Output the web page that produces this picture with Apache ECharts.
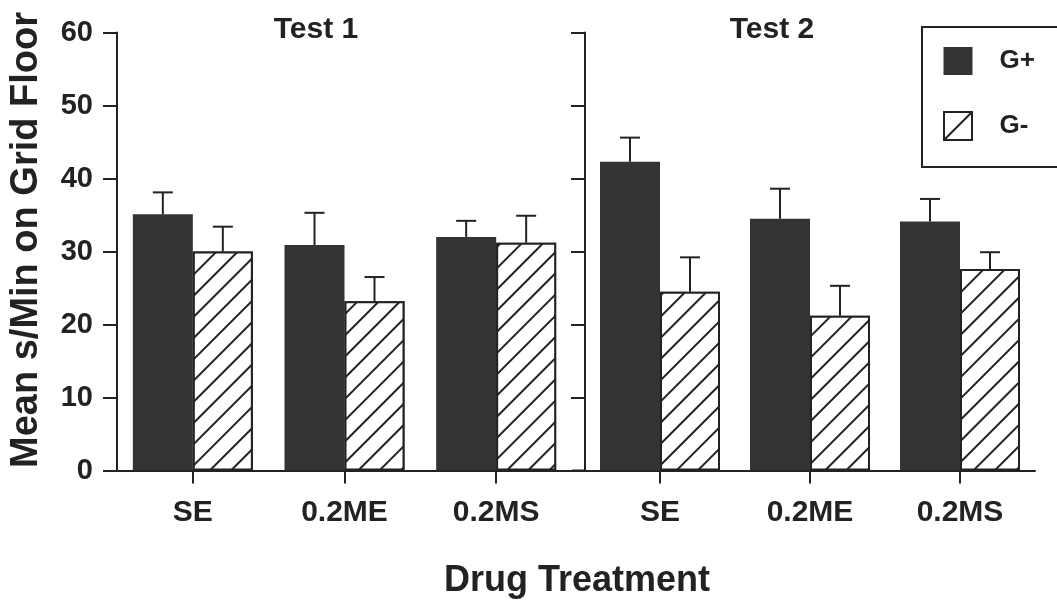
<!DOCTYPE html>
<html>
<head>
<meta charset="utf-8">
<script src="https://cdn.jsdelivr.net/npm/echarts@6/dist/echarts.min.js"></script>
<style>
  html, body { margin: 0; padding: 0; background: #fff; }
  #chart { width: 1057px; height: 606px; }
</style>
</head>
<body>
<div id="chart"></div>
<script>
// ---- data ----
const categories = ['SE', '0.2ME', '0.2MS'];
const test1GPlus = [35.1, 30.9, 32.0];
const test1GPlusErr = [3.0, 4.4, 2.2];
const test1GMinus = [30.0, 23.2, 31.2];
const test1GMinusErr = [3.4, 3.3, 3.7];
const test2GPlus = [42.3, 34.5, 34.1];
const test2GPlusErr = [3.3, 4.1, 3.1];
const test2GMinus = [24.5, 21.2, 27.6];
const test2GMinusErr = [4.7, 4.1, 2.3];
const yMin = 0, yMax = 60, yStep = 10;
const seriesNames = ['G+', 'G-'];
const panelTitles = ['Test 1', 'Test 2'];
const xTitle = 'Drug Treatment';
const yTitle = 'Mean s/Min on Grid Floor';

// ---- style ----
const INK = '#222';
const DARK = '#333';
const FONT = 'Liberation Sans, Arial, sans-serif';
const BAR_W = 60;
const GRID_TOP = 32.5, GRID_H = 438;
const G1 = { left: 117, width: 455 };
const G2 = { left: 585, width: 450 };

const chart = echarts.init(document.getElementById('chart'), null, { renderer: 'canvas' });

const hatch = {
  symbol: 'rect',
  symbolSize: 1,
  color: INK,
  backgroundColor: '#fff',
  dashArrayX: [1, 0],
  dashArrayY: [2, 13],
  rotation: -Math.PI / 4
};

function xAxisFor(gi) {
  return {
    type: 'category', gridIndex: gi, data: categories,
    axisLine: { lineStyle: { color: INK, width: 2 } },
    axisTick: { show: true, alignWithLabel: true, length: 13, lineStyle: { color: INK, width: 2 } },
    axisLabel: { color: INK, fontFamily: FONT, fontWeight: 'bold', fontSize: 30, margin: 27 },
    splitLine: { show: false }
  };
}
function yAxisFor(gi, showLabels) {
  return {
    type: 'value', gridIndex: gi, min: yMin, max: yMax, interval: yStep,
    axisLine: { show: true, lineStyle: { color: INK, width: 2 } },
    axisTick: { show: true, length: 14, lineStyle: { color: INK, width: 2 } },
    axisLabel: { show: showLabels, color: INK, fontFamily: FONT, fontWeight: 'bold', fontSize: 29, margin: 24 },
    splitLine: { show: false }
  };
}

function barSeries(gi, name, values) {
  const isMinus = name === 'G-';
  return {
    type: 'bar', name: name, xAxisIndex: gi, yAxisIndex: gi,
    data: values, barWidth: BAR_W, barGap: '0%',
    itemStyle: isMinus
      ? { color: '#fff', borderColor: INK, borderWidth: 2, decal: hatch }
      : { color: DARK, borderColor: DARK, borderWidth: 0 },
    emphasis: { disabled: true }
  };
}

function errSeries(gi, values, errs, side) {
  return {
    type: 'custom', xAxisIndex: gi, yAxisIndex: gi, z: 3,
    data: values.map((v, i) => [i, v, errs[i]]),
    encode: { x: 0, y: 1 },
    renderItem: function (params, api) {
      const i = api.value(0), v = api.value(1), e = api.value(2);
      const base = api.coord([i, v]);
      const top = api.coord([i, v + e]);
      const x = base[0] + side * BAR_W / 2;
      const st = { stroke: INK, lineWidth: 2 };
      return {
        type: 'group',
        children: [
          { type: 'line', shape: { x1: x, y1: base[1], x2: x, y2: top[1] }, style: st },
          { type: 'line', shape: { x1: x - 10, y1: top[1], x2: x + 10, y2: top[1] }, style: st }
        ]
      };
    },
    silent: true
  };
}

const baseY = GRID_TOP + GRID_H;

const option = {
  animation: false,
  backgroundColor: '#fff',
  grid: [
    { left: G1.left, top: GRID_TOP, width: G1.width, height: GRID_H },
    { left: G2.left, top: GRID_TOP, width: G2.width, height: GRID_H }
  ],
  xAxis: [xAxisFor(0), xAxisFor(1)],
  yAxis: [yAxisFor(0, true), yAxisFor(1, false)],
  legend: {
    orient: 'vertical', left: 922, top: 27,
    padding: [20, 90, 26, 21],
    itemWidth: 29, itemHeight: 28, itemGap: 36,
    borderColor: INK, borderWidth: 2, backgroundColor: '#fff',
    selectedMode: false,
    textStyle: { color: INK, fontFamily: FONT, fontWeight: 'bold', fontSize: 26, padding: [0, 0, 0, 22] },
    data: [
      { name: seriesNames[0], icon: 'rect', itemStyle: { color: DARK, borderWidth: 0 } },
      { name: seriesNames[1], icon: 'path://M0,0L10,0L10,10L0,10Z M0,10L10,0',
        itemStyle: { color: '#fff', borderColor: INK, borderWidth: 2, decal: 'none' } }
    ]
  },
  graphic: [
    { type: 'line', shape: { x1: G1.left + G1.width, y1: baseY, x2: G2.left, y2: baseY },
      style: { stroke: INK, lineWidth: 2 }, z: 10 },
    { type: 'text', x: 316, y: 30, style: { text: panelTitles[0], textAlign: 'center', textVerticalAlign: 'middle',
      font: 'bold 30px ' + FONT, fill: INK } },
    { type: 'text', x: 772, y: 30, style: { text: panelTitles[1], textAlign: 'center', textVerticalAlign: 'middle',
      font: 'bold 30px ' + FONT, fill: INK } },
    { type: 'text', x: 577, y: 581, style: { text: xTitle, textAlign: 'center', textVerticalAlign: 'middle',
      font: 'bold 36px ' + FONT, fill: INK } },
    { type: 'text', x: 27, y: 240, rotation: Math.PI / 2, style: { text: yTitle, textAlign: 'center', textVerticalAlign: 'middle',
      font: 'bold 38px ' + FONT, fill: INK } }
  ],
  series: [
    barSeries(0, seriesNames[0], test1GPlus),
    barSeries(0, seriesNames[1], test1GMinus),
    barSeries(1, seriesNames[0], test2GPlus),
    barSeries(1, seriesNames[1], test2GMinus),
    errSeries(0, test1GPlus, test1GPlusErr, -1),
    errSeries(0, test1GMinus, test1GMinusErr, 1),
    errSeries(1, test2GPlus, test2GPlusErr, -1),
    errSeries(1, test2GMinus, test2GMinusErr, 1)
  ]
};
chart.setOption(option);
</script>
</body>
</html>
